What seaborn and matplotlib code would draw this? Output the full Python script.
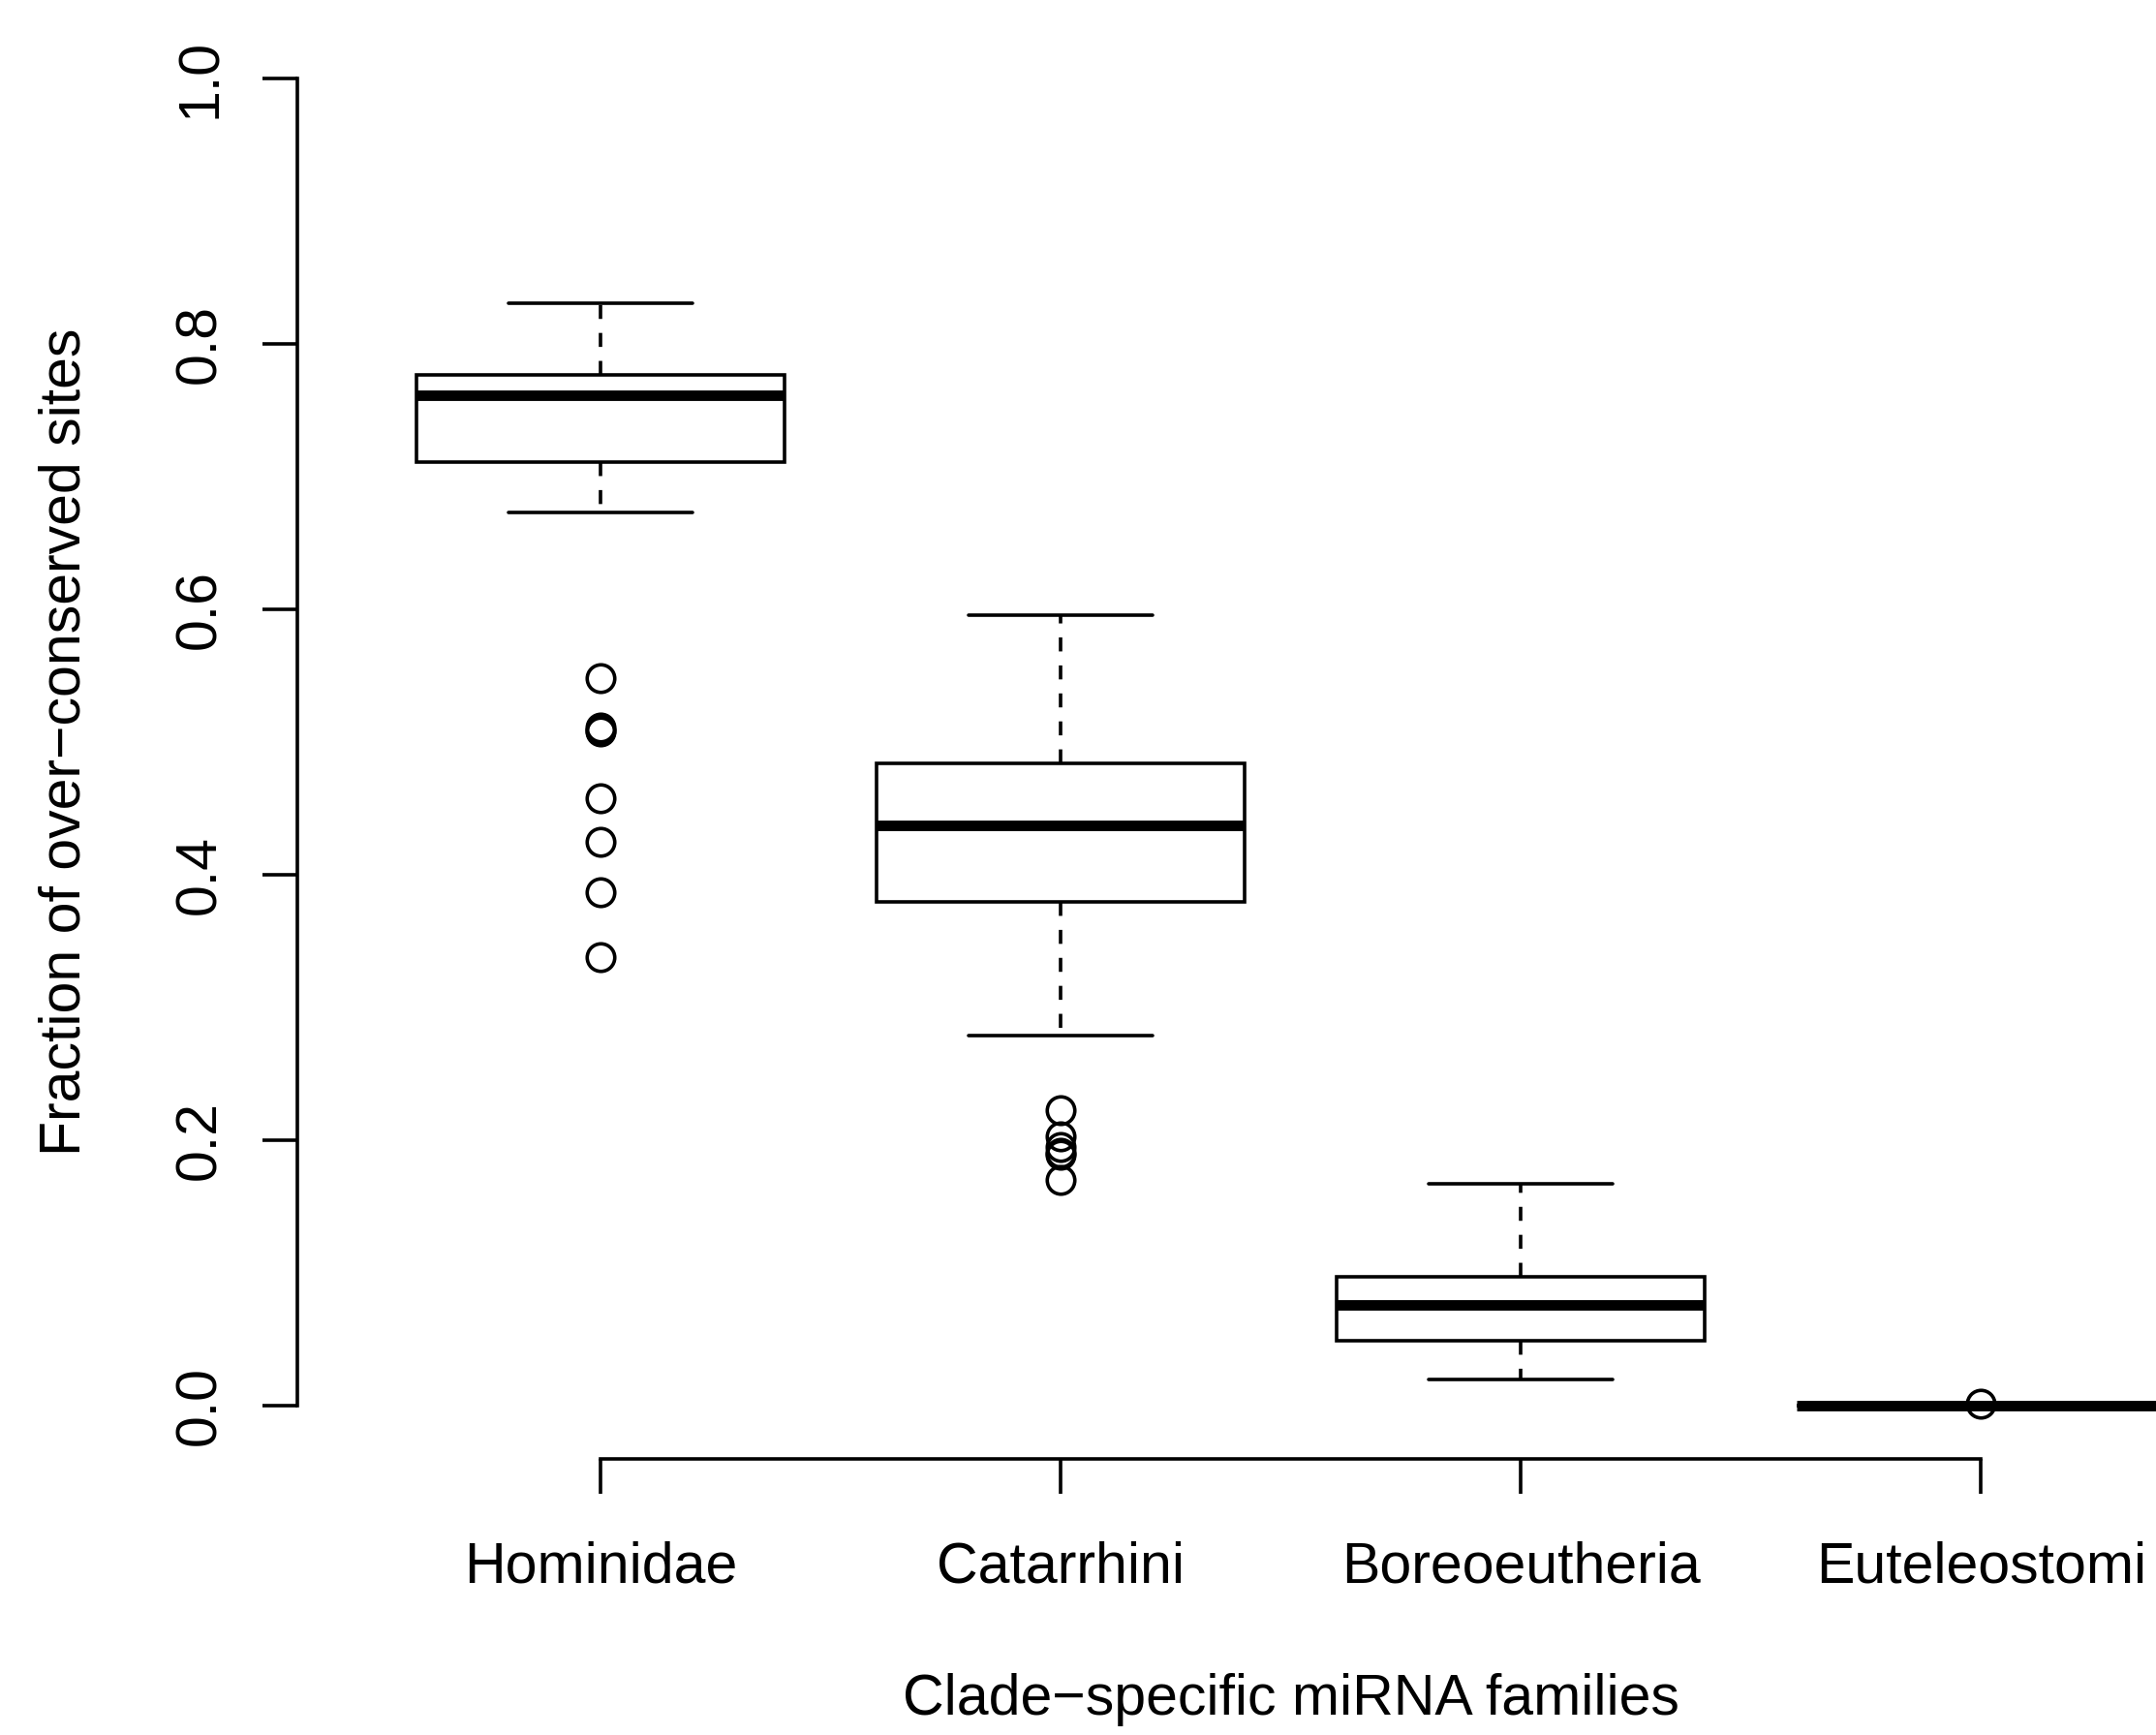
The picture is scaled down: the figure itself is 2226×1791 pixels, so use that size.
import numpy as np
import pandas as pd
import matplotlib
matplotlib.use("Agg")
import matplotlib.pyplot as plt
import seaborn as sns

# Box summaries
clades = ["Hominidae", "Catarrhini", "Boreoeutheria", "Euteleostomi"]
whisker_low = [0.673, 0.279, 0.020, 0.0]
q1 = [0.711, 0.380, 0.049, 0.0]
median = [0.761, 0.437, 0.076, 0.0]
q3 = [0.777, 0.484, 0.097, 0.0]
whisker_high = [0.831, 0.596, 0.167, 0.0]
outliers = [
    [0.548, 0.511, 0.509, 0.508, 0.458, 0.425, 0.387, 0.338],
    [0.223, 0.203, 0.195, 0.191, 0.189, 0.170],
    [],
    [0.002],
]


def rebuild_sample(i, block=40):
    """Sample whose boxplot stats reproduce the summary of group i."""
    low = [v for v in outliers[i] if v < q1[i]]
    high = [v for v in outliers[i] if v > q3[i]]
    vals = (low + [whisker_low[i]] + [q1[i]] * block + [median[i]] * block
            + [q3[i]] * block + [whisker_high[i]] + high)
    return vals


rows = []
for i, c in enumerate(clades):
    for v in rebuild_sample(i):
        rows.append({"clade": c, "fraction": v})
df = pd.DataFrame(rows)

sns.set_style("ticks")
plt.rcParams["font.family"] = ["Liberation Sans", "DejaVu Sans"]
plt.rcParams["text.color"] = "black"
plt.rcParams["axes.labelcolor"] = "black"

fig = plt.figure(figsize=(22.26, 17.91), dpi=100)
ax = fig.add_axes([0.1379, 0.1591, 0.9218, 0.8263])

lw = 2.6
sns.boxplot(data=df, x="clade", y="fraction", order=clades, ax=ax,
            color="white", linecolor="black", width=0.8, whis=1.5,
            linewidth=lw,
            medianprops=dict(linewidth=7.8, color="black", solid_capstyle="butt"),
            whiskerprops=dict(linestyle=(0, (4.0, 4.0)), linewidth=lw),
            capprops=dict(linewidth=lw),
            flierprops=dict(marker="o", markersize=20.5, markerfacecolor="none",
                            markeredgecolor="black", markeredgewidth=lw))

ax.set_xlim(-0.66, 3.66)
ax.set_ylim(-0.04, 1.04)
ax.set_yticks([0.0, 0.2, 0.4, 0.6, 0.8, 1.0])
ax.set_yticklabels(["0.0", "0.2", "0.4", "0.6", "0.8", "1.0"], rotation=90, va="center")

for s in ["top", "right"]:
    ax.spines[s].set_visible(False)
ax.spines["left"].set_bounds(0, 1)
ax.spines["bottom"].set_bounds(0, 3)
ax.spines["left"].set_linewidth(lw)
ax.spines["bottom"].set_linewidth(lw)
ax.spines["left"].set_color("black")
ax.spines["bottom"].set_color("black")

ax.tick_params(axis="both", direction="out", length=26, width=lw,
               labelsize=42.5, colors="black")
ax.tick_params(axis="x", pad=35)
ax.tick_params(axis="y", pad=26)

ax.set_xlabel("Clade\u2212specific miRNA families", fontsize=42.5, va="baseline", color="black")
ax.set_ylabel("Fraction of over\u2212conserved sites", fontsize=42.5, va="baseline", color="black")
ax.xaxis.set_label_coords(0.5, -0.1784)
ax.yaxis.set_label_coords(-0.1096, 0.5)

fig.savefig("out.png", dpi=100)
